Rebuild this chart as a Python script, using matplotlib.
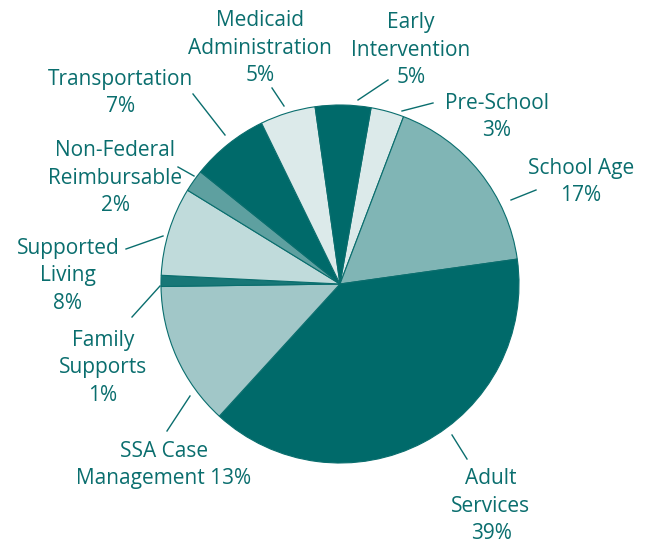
import matplotlib
matplotlib.use('Agg')
import matplotlib.pyplot as plt

# budget shares, clockwise from the top
categories = ['Pre-School', 'School Age', 'Adult Services', 'SSA Case Management',
              'Family Supports', 'Supported Living', 'Non-Federal Reimbursable',
              'Transportation', 'Medicaid Administration', 'Early Intervention']
shares = [3, 17, 39, 13, 1, 8, 2, 7, 5, 5]
colors = ['#dceaea', '#80b5b5', '#006a6a', '#a1c7c8', '#187777',
          '#c0dbdb', '#5ea0a0', '#006a6a', '#dceaea', '#006a6a']

label_texts = ['Pre-School\n3%', 'School Age\n17%', 'Adult\nServices\n39%',
               'SSA Case\nManagement 13%', 'Family\nSupports\n1%',
               'Supported\nLiving\n8%', 'Non-Federal\nReimbursable\n2%',
               'Transportation\n7%', 'Medicaid\nAdministration\n5%',
               'Early\nIntervention\n5%']

W, H = 650, 546
TEXT = '#0a6e6e'

# label centre (pixel coords, y down) and leader line ends
label_pos = [(497, 117), (581, 182), (491, 506), (164, 465), (103, 368),
             (68, 276), (115, 178), (121, 93), (260, 48), (411, 50)]
leaders = [((402, 111), (433, 103)), ((511, 200), (536, 190)),
           ((452, 435), (467, 459)), ((190, 396), (167, 431)),
           ((160, 286), (132, 317)), ((163, 236), (126, 249)),
           ((194, 176), (178, 167)), ((225, 135), (193, 94)),
           ((284, 106), (272, 88)), ((358, 100), (388, 80))]

fig = plt.figure(figsize=(W / 100, H / 100), dpi=100)
ax = fig.add_axes([0, 0, 1, 1])

ax.pie(shares, colors=colors, startangle=80, counterclock=False,
       center=(340, H - 284), radius=179, frame=True,
       wedgeprops=dict(edgecolor='#0a6e6e', linewidth=0.8))
ax.set_xlim(0, W)
ax.set_ylim(0, H)
ax.set_aspect('equal')
ax.axis('off')

for txt, (x, y) in zip(label_texts, label_pos):
    ax.text(x, H - y, txt, ha='center', va='center', color=TEXT,
            fontsize=15, family='Open Sans', linespacing=1.42)

for (x0, y0), (x1, y1) in leaders:
    ax.plot([x0, x1], [H - y0, H - y1], color=TEXT, lw=1)

fig.savefig('out.png', dpi=100)
